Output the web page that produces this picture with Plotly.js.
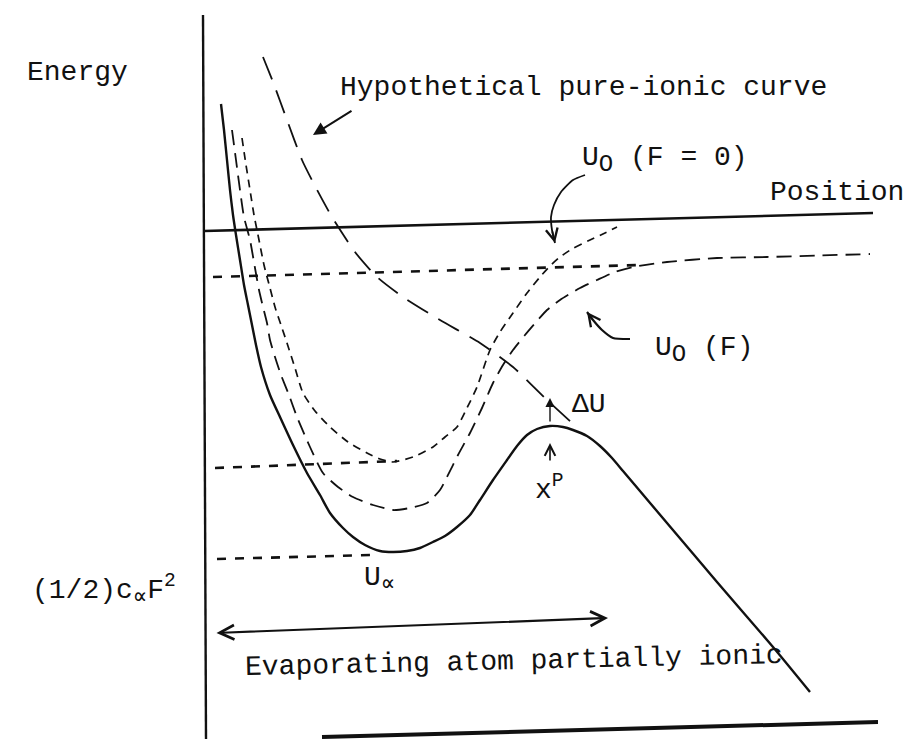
<!DOCTYPE html>
<html>
<head>
<meta charset="utf-8">
<script src="https://cdn.plot.ly/plotly-3.0.1.min.js"></script>
<style>
  html, body { margin: 0; padding: 0; background: #fff; }
  #chart { width: 906px; height: 739px; }
</style>
</head>
<body>
<div id="chart"></div>
<script>
// Sketch of the field-evaporation potential energy curves.
// Coordinates are in drawing units (x to the right, y downward on the sheet).

// Axes of the sketch
const energyAxisX = [203, 206];
const energyAxisY = [15, 739];
const positionAxisX = [204, 873];
const positionAxisY = [231, 213];
const baseLineX = [322, 878];
const baseLineY = [737, 722];

// Total energy curve in the field (solid)
const solidX = [221, 224, 227, 230, 233, 236, 240, 244, 248, 252, 256, 261, 270, 280, 293, 307, 320, 330, 343, 353, 365, 380, 393, 407, 420, 433, 445, 457, 470, 480, 493, 507, 517, 527, 537, 550, 563, 573, 587, 600, 612, 623, 645, 667, 717, 773, 810];
const solidY = [104, 130, 160, 190, 215, 235, 260, 285, 305, 325, 345, 367, 395, 417, 445, 473, 495, 513, 528, 537, 545, 551, 552, 551, 548, 542, 536, 527, 515, 500, 480, 460, 446, 435, 429, 426, 427, 430, 436, 446, 458, 471, 497, 523, 582, 647, 692];

// U0(F): atomic curve in the field (long dashes)
const fieldX = [232, 236, 240, 244, 250, 255, 259, 263, 267, 270, 275, 281, 289, 297, 310, 323, 338, 353, 373, 393, 410, 427, 440, 447, 458, 470, 482, 493, 503, 513, 525, 537, 547, 560, 580, 597, 615, 633, 667, 717, 767, 870];
const fieldY = [130, 160, 190, 217, 240, 268, 290, 307, 323, 340, 357, 375, 395, 417, 447, 473, 487, 497, 505, 510, 508, 503, 490, 477, 455, 433, 408, 383, 365, 350, 335, 321, 310, 300, 288, 280, 272, 267, 262, 258, 257, 254];

// U0(F = 0): field-free atomic curve (short dashes)
const freeX = [242, 246, 250, 254, 259, 264, 270, 275, 281, 287, 295, 303, 315, 330, 348, 367, 380, 393, 413, 433, 445, 457, 467, 477, 490, 500, 513, 527, 540, 550, 560, 572, 590, 605, 617];
const freeY = [138, 165, 190, 215, 240, 265, 288, 307, 325, 343, 368, 393, 411, 427, 442, 453, 459, 462, 457, 447, 437, 427, 408, 387, 350, 332, 313, 293, 277, 266, 257, 249, 240, 233, 227];

// Hypothetical pure-ionic curve (long dashes)
const ionicX = [263, 273, 287, 302, 315, 332, 355, 377, 403, 440, 480, 513, 547, 572];
const ionicY = [57, 82, 120, 160, 186, 217, 252, 277, 297, 320, 343, 367, 400, 423];

// Reference levels (dashed horizontals)
const levelTopX = [213, 640];
const levelTopY = [277, 265];
const levelMidX = [215, 397];
const levelMidY = [468, 461];
const levelLowX = [217, 372];
const levelLowY = [559, 555];

// Curved pointer lines for the U0 labels
const pointerFreeX = [585, 573, 561, 554, 551, 552, 555];
const pointerFreeY = [175, 180, 192, 205, 217, 230, 243];
const pointerFieldX = [630, 613, 602, 593, 587];
const pointerFieldY = [339, 338, 330, 320, 312];

const ink = '#111111';
const mono = 'Liberation Mono, Courier New, monospace';

function line(x, y, width, dash, shape) {
  return {
    x: x, y: y, type: 'scatter', mode: 'lines',
    line: { color: ink, width: width, dash: dash || 'solid', shape: shape || 'linear', smoothing: 0.6 },
    hoverinfo: 'skip', showlegend: false
  };
}

const traces = [
  line(energyAxisX, energyAxisY, 2.4),
  line(positionAxisX, positionAxisY, 2.6),
  line(baseLineX, baseLineY, 4),
  line(levelTopX, levelTopY, 2.6, '9px,9px'),
  line(levelMidX, levelMidY, 2.6, '9px,9px'),
  line(levelLowX, levelLowY, 2.6, '9px,9px'),
  line(ionicX, ionicY, 1.8, '24px,12px', 'spline'),
  line(freeX, freeY, 1.7, '8px,6px', 'spline'),
  line(fieldX, fieldY, 1.8, '15px,8px', 'spline'),
  line(solidX, solidY, 2.4, 'solid', 'spline'),
  line(pointerFreeX, pointerFreeY, 1.8, 'solid', 'spline'),
  line(pointerFieldX, pointerFieldY, 2.2, 'solid', 'spline')
];

function label(x, y, text, anchor, extra) {
  return Object.assign({
    x: x, y: y, xref: 'x', yref: 'y', text: text, showarrow: false,
    xanchor: anchor || 'left', yanchor: 'middle',
    font: { family: mono, size: 28, color: ink }
  }, extra || {});
}

function arrow(tipX, tipY, tailX, tailY, head, width, extra) {
  return Object.assign({
    x: tipX, y: tipY, ax: tailX, ay: tailY,
    xref: 'x', yref: 'y', axref: 'x', ayref: 'y',
    text: '', showarrow: true, arrowhead: head, arrowsize: 1.3,
    arrowwidth: width, arrowcolor: ink, standoff: 0, startstandoff: 0
  }, extra || {});
}

// Larger-than-default subscripts, as typed on the sheet
const bigSub = s => '<sub><span style="font-size:24px">' + s + '</span></sub>';

const n1 = pointerFreeX.length - 1;
const n2 = pointerFieldX.length - 1;

const annotations = [
  label(25, 72, 'Energy'),
  label(338, 87, 'Hypothetical pure-ionic curve'),
  label(580, 160, 'U' + bigSub('O') + ' (F = 0)'),
  label(768, 192, 'Position'),
  label(653, 350, 'U' + bigSub('O') + ' (F)'),
  label(570, 404, 'ΔU'),
  label(533, 488, 'x<sup>P</sup>'),
  label(362, 580, 'U' + bigSub('∝')),
  label(30, 590, '(1/2)c' + bigSub('∝') + 'F<sup>2</sup>'),
  label(514, 661, 'Evaporating atom partially ionic', 'center', { textangle: -1.3 }),
  arrow(313, 135, 353, 110, 2, 2),
  arrow(550, 398, 550, 423, 2, 1.4),
  arrow(550, 443, 550, 462, 5, 1.6),
  arrow(608, 618, 215, 633, 5, 2.2, { arrowside: 'end+start', startarrowhead: 5, startarrowsize: 1.3 }),
  arrow(pointerFreeX[n1], pointerFreeY[n1], pointerFreeX[n1 - 1], pointerFreeY[n1 - 1], 5, 1.8),
  arrow(pointerFieldX[n2], pointerFieldY[n2], pointerFieldX[n2 - 1], pointerFieldY[n2 - 1], 5, 1.8)
];

const hidden = {
  visible: false, showgrid: false, zeroline: false, showticklabels: false, fixedrange: true
};

const layout = {
  width: 906, height: 739,
  margin: { l: 0, r: 0, t: 0, b: 0, pad: 0 },
  paper_bgcolor: '#ffffff', plot_bgcolor: '#ffffff',
  xaxis: Object.assign({ range: [0, 906] }, hidden),
  yaxis: Object.assign({ range: [739, 0] }, hidden),
  annotations: annotations,
  showlegend: false
};

Plotly.newPlot('chart', traces, layout, { staticPlot: true, displayModeBar: false });
</script>
</body>
</html>
